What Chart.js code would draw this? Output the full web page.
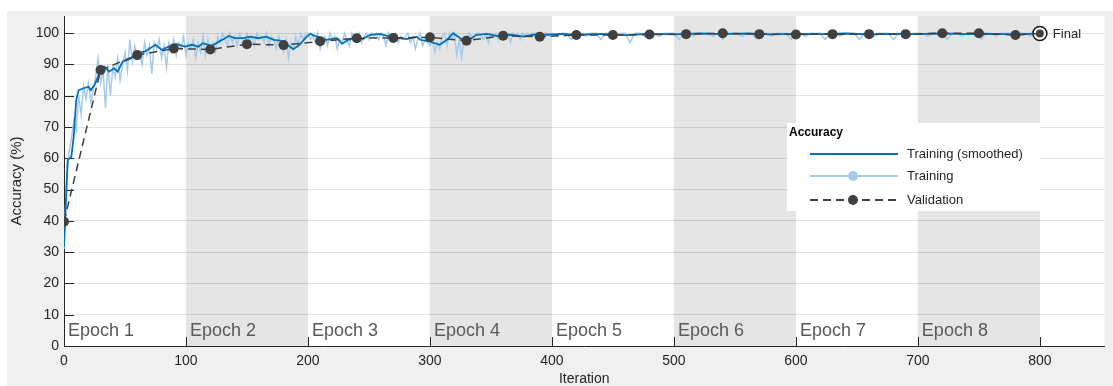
<!DOCTYPE html>
<html>
<head>
<meta charset="utf-8">
<script src="https://cdn.jsdelivr.net/npm/chart.js@4.4.0/dist/chart.umd.min.js"></script>
<style>
  html, body { margin: 0; padding: 0; background: #fff; }
  #wrap { position: relative; width: 1113px; height: 386px; }
</style>
</head>
<body>
<div id="wrap"><canvas id="accChart"></canvas></div>
<script>
// raw training accuracy, one value every 2 iterations from 0 to 398
const trainAccA = [
    31, 52, 62, 66, 72, 69, 80, 74, 83, 79,
    84, 78, 82, 86, 92, 84, 88, 76, 90, 80,
    89, 86, 92, 85, 90, 94, 88, 98, 91, 96,
    92, 94, 90, 97, 93, 96, 87, 97, 95, 98,
    92, 96, 89, 97, 94, 98, 93, 97, 95, 99,
    93, 97, 95, 98, 92, 97, 94, 99, 93, 98,
    95, 97, 94, 99, 97, 100, 98, 96, 100, 97,
    99, 96, 100, 98, 97, 100, 98, 99, 96, 100,
    98, 99, 97, 100, 96, 99, 98, 95, 99, 97,
    94, 98, 92, 97, 95, 99, 96, 100, 98, 100,
    100, 98, 99, 97, 100, 95, 98, 99, 96, 100,
    98, 99, 95, 98, 97, 100, 98, 96, 100, 99,
    98, 100, 97, 99, 100, 98, 100, 99, 100, 98,
    100, 99, 96, 100, 98, 99, 100, 97, 99, 98,
    99, 100, 97, 99, 95, 98, 100, 96, 98, 97,
    96, 98, 94, 97, 95, 99, 100, 96, 100, 98,
    100, 93, 98, 92, 99, 97, 100, 99, 98, 100,
    100, 99, 98, 100, 97, 100, 99, 100, 98, 100,
    100, 99, 100, 97, 100, 99, 100, 98, 100, 99,
    100, 99, 100, 100, 98, 100, 99, 100, 100, 99
];
// raw training accuracy, one value every 4 iterations from 400 to 800
const trainAccB = [
    100, 99, 100, 100, 98, 100, 100, 99, 100, 100,
    98, 100, 100, 99, 100, 100, 97, 100, 100, 99,
    100, 100, 99, 100, 100, 100, 98, 100, 100, 99,
    100, 100, 100, 99, 100, 98, 100, 100, 100, 99,
    100, 100, 98, 100, 100, 99, 100, 100, 100, 98,
    100, 100, 99, 100, 100, 100, 98, 100, 100, 99,
    100, 100, 100, 98, 100, 100, 99, 100, 100, 100,
    98, 100, 100, 99, 100, 100, 100, 99, 100, 100,
    100, 98, 100, 100, 99, 100, 100, 100, 98, 100,
    100, 99, 100, 100, 100, 98, 100, 100, 99, 100,
    100
];

const smoothIter = [0, 3, 6, 8, 10, 12, 16, 20, 22, 25, 29, 33, 37, 41, 44, 48, 54, 60, 66, 75,
    80, 86, 92, 99, 105, 110, 114, 121, 127, 132, 135, 140, 147, 153, 159, 166, 172, 177, 183, 188,
    193, 199, 202, 207, 215, 224, 228, 233, 240, 245, 251, 259, 267, 275, 281, 289, 292, 300, 308, 314,
    319, 325, 330, 338, 347, 355, 366, 377, 385, 396, 407, 420, 440, 460, 480, 500, 520, 540, 560, 580,
    600, 620, 640, 660, 680, 700, 720, 740, 760, 780, 800];
const smoothAcc = [31.7, 59.4, 60.5, 67, 78.6, 81.8, 82.4, 82.9, 81.8, 83.4, 87.2, 89.3, 87.7, 88.8, 87.7, 90.9, 91.8, 93.6, 94.1, 96.3,
    94.7, 95.7, 96.6, 95.7, 96.3, 95.7, 96.8, 95.9, 97.3, 98.4, 99.1, 98.4, 98.4, 98.9, 98.4, 98.9, 97.9, 97.6, 96.3, 94.9,
    96.3, 98.9, 99.8, 98.9, 97.9, 98.4, 96.6, 97.9, 98.7, 98.1, 99.5, 99.8, 98.9, 98.4, 98.1, 98.9, 97.9, 97.3, 96.3, 97.9,
    100, 98.4, 97.3, 99.5, 99.8, 99.1, 99.5, 98.9, 99.5, 99.5, 99.8, 99.5, 99.8, 99.4, 99.8, 99.6, 99.9, 99.7, 99.9, 99.6,
    99.8, 99.7, 99.9, 99.6, 99.8, 99.7, 99.9, 99.7, 99.8, 99.6, 99.9];

const valIter = [0, 30, 60, 90, 120, 150, 180, 210, 240, 270, 300, 330, 360, 390, 420,
    450, 480, 510, 540, 570, 600, 630, 660, 690, 720, 750, 780, 800];
const valAcc = [39.7, 88.2, 93, 95.1, 94.8, 96.5, 96.2, 97.4, 98.4, 98.5, 98.7, 97.6, 99.2, 98.9, 99.4,
    99.4, 99.6, 99.7, 100, 99.7, 99.6, 99.7, 99.7, 99.7, 100, 100, 99.4, 99.9];

const epochLabels = ['Epoch 1', 'Epoch 2', 'Epoch 3', 'Epoch 4', 'Epoch 5', 'Epoch 6', 'Epoch 7', 'Epoch 8'];
const itersPerEpoch = 100;

const rawPoints = [];
trainAccA.forEach((v, i) => rawPoints.push({ x: i * 2, y: v }));
trainAccB.forEach((v, i) => rawPoints.push({ x: 400 + i * 4, y: v }));
const smoothPoints = smoothIter.map((it, i) => ({ x: it, y: smoothAcc[i] }));
const valPoints = valIter.map((it, i) => ({ x: it, y: valAcc[i] }));
const finalPoint = [valPoints[valPoints.length - 1]];

const FONT = '"Liberation Sans", Arial, Helvetica, sans-serif';
const TXT = '#262626';
const BLUE = '#0072BD';
const LIGHT = '#a6cbea';
const DARK = '#404040';

const matlabLook = {
    id: 'matlabLook',
    beforeDraw(chart) {
        const { ctx, chartArea: a, scales: { x } } = chart;
        ctx.save();
        ctx.fillStyle = '#fff';
        ctx.fillRect(0, 0, chart.width, chart.height);
        ctx.fillStyle = '#f0f0f0';
        ctx.fillRect(7, 11, chart.width - 7, chart.height - 11);
        ctx.fillStyle = '#fff';
        ctx.fillRect(a.left, a.top, a.right - a.left, a.bottom - a.top);
        // shade the even epochs
        ctx.fillStyle = '#e5e5e5';
        epochLabels.forEach((lab, k) => {
            if (k % 2 === 1) {
                const x0 = x.getPixelForValue(k * itersPerEpoch);
                const x1 = Math.min(x.getPixelForValue((k + 1) * itersPerEpoch), a.right);
                ctx.fillRect(x0, a.top, x1 - x0, a.bottom - a.top);
            }
        });
        ctx.restore();
    },
    beforeDatasetsDraw(chart) {
        const { ctx, chartArea: a, scales: { x, y } } = chart;
        ctx.save();
        // inward tick marks
        ctx.strokeStyle = TXT;
        ctx.lineWidth = 1;
        ctx.beginPath();
        y.ticks.forEach(t => {
            const py = Math.round(y.getPixelForValue(t.value)) + 0.5;
            ctx.moveTo(a.left, py);
            ctx.lineTo(a.left + 10, py);
        });
        x.ticks.forEach(t => {
            const px = Math.round(x.getPixelForValue(t.value)) + 0.5;
            ctx.moveTo(px, a.bottom);
            ctx.lineTo(px, a.bottom - 9);
        });
        ctx.stroke();
        // epoch names
        ctx.fillStyle = '#595959';
        ctx.font = '18px ' + FONT;
        ctx.textBaseline = 'alphabetic';
        epochLabels.forEach((lab, k) => {
            ctx.fillText(lab, x.getPixelForValue(k * itersPerEpoch) + 4, a.bottom - 10);
        });
        ctx.restore();
    },
    afterDraw(chart) {
        const { ctx, scales: { x, y } } = chart;
        const fp = finalPoint[0];
        ctx.save();
        ctx.fillStyle = TXT;
        ctx.font = '13px ' + FONT;
        ctx.textBaseline = 'middle';
        ctx.fillText('Final', x.getPixelForValue(fp.x) + 13, y.getPixelForValue(fp.y) + 1);

        // legend box
        const lx = 787, ly = 123;
        ctx.fillStyle = '#fff';
        ctx.fillRect(lx, ly, 253, 88);
        ctx.fillStyle = '#000';
        ctx.font = 'bold 12px ' + FONT;
        ctx.fillText('Accuracy', lx + 2, ly + 10);
        const rows = [
            { text: 'Training (smoothed)', color: BLUE, dash: [], dot: false, y: ly + 31 },
            { text: 'Training', color: LIGHT, dash: [], dot: true, y: ly + 53 },
            { text: 'Validation', color: DARK, dash: [8, 5], dot: true, y: ly + 77 }
        ];
        rows.forEach(r => {
            ctx.strokeStyle = r.color;
            ctx.lineWidth = 2;
            ctx.setLineDash(r.dash);
            ctx.beginPath();
            ctx.moveTo(lx + 23, r.y);
            ctx.lineTo(lx + 111, r.y);
            ctx.stroke();
            ctx.setLineDash([]);
            if (r.dot) {
                ctx.fillStyle = r.color;
                ctx.beginPath();
                ctx.arc(lx + 66, r.y, 5, 0, Math.PI * 2);
                ctx.fill();
            }
            ctx.fillStyle = TXT;
            ctx.font = '13px ' + FONT;
            ctx.fillText(r.text, lx + 120, r.y);
        });
        ctx.restore();
    }
};

Chart.defaults.font.family = FONT;
Chart.defaults.color = TXT;

new Chart(document.getElementById('accChart'), {
    type: 'line',
    data: {
        datasets: [{
            label: 'Training',
            data: rawPoints,
            borderColor: LIGHT,
            borderWidth: 1.5,
            pointRadius: 0,
            order: 4
        }, {
            label: 'Training (smoothed)',
            data: smoothPoints,
            borderColor: BLUE,
            borderWidth: 1.8,
            pointRadius: 0,
            order: 3
        }, {
            label: 'Final',
            data: finalPoint,
            showLine: false,
            pointRadius: 7,
            pointBorderWidth: 1.5,
            pointBorderColor: '#1a1a1a',
            pointBackgroundColor: '#fff',
            order: 2
        }, {
            label: 'Validation',
            data: valPoints,
            borderColor: DARK,
            borderWidth: 1.5,
            borderDash: [8, 5],
            pointRadius: (c) => c.dataIndex === valPoints.length - 1 ? 4 : 5,
            pointBackgroundColor: DARK,
            pointBorderWidth: 0,
            order: 1
        }]
    },
    options: {
        responsive: true,
        maintainAspectRatio: false,
        animation: false,
        layout: { padding: { left: 0, top: 16, right: 8, bottom: 0 } },
        plugins: {
            legend: { display: false },
            tooltip: { enabled: false }
        },
        scales: {
            x: {
                type: 'linear',
                min: 0,
                max: 853,
                ticks: { stepSize: 100, includeBounds: false, padding: 7, color: TXT, font: { size: 14 } },
                grid: { display: false, drawTicks: false },
                border: { color: TXT, width: 1 },
                title: { display: true, text: 'Iteration', color: TXT, font: { size: 14 }, padding: { top: 0, bottom: -2 } },
                afterFit: (s) => { s.height = 40; }
            },
            y: {
                min: 0,
                max: 105.5,
                ticks: { stepSize: 10, includeBounds: false, padding: 5, color: TXT, font: { size: 14 } },
                grid: { color: 'rgba(0,0,0,0.11)', drawTicks: false },
                border: { color: TXT, width: 1 },
                title: { display: true, text: 'Accuracy (%)', color: TXT, font: { size: 15 }, padding: { top: 8, bottom: 0 } },
                afterFit: (s) => { s.width = 64; }
            }
        }
    },
    plugins: [matlabLook]
});
</script>
</body>
</html>
